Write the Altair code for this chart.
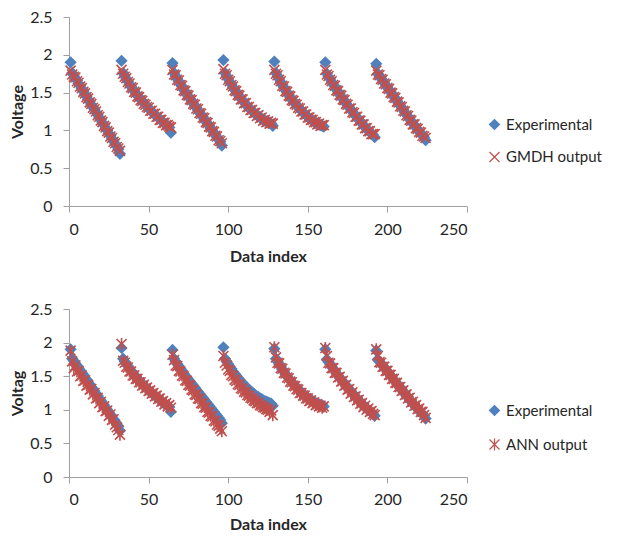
import altair as alt
import pandas as pd

# ---- data : 7 discharge cycles of 32 samples ----
experimental = [
    [1.90, 1.76, 1.73, 1.69, 1.66, 1.62, 1.59, 1.55, 1.52, 1.48, 1.45, 1.41, 1.38, 1.34, 1.31, 1.28,
     1.24, 1.21, 1.17, 1.14, 1.10, 1.07, 1.03, 1.00, 0.96, 0.93, 0.89, 0.86, 0.82, 0.79, 0.75, 0.69],
    [1.92, 1.76, 1.72, 1.68, 1.65, 1.61, 1.58, 1.55, 1.52, 1.49, 1.46, 1.44, 1.41, 1.39, 1.36, 1.34,
     1.32, 1.29, 1.27, 1.25, 1.23, 1.21, 1.19, 1.17, 1.15, 1.13, 1.11, 1.09, 1.08, 1.06, 1.04, 0.97],
    [1.89, 1.76, 1.72, 1.68, 1.65, 1.61, 1.58, 1.54, 1.51, 1.48, 1.45, 1.42, 1.39, 1.36, 1.33, 1.30,
     1.27, 1.24, 1.21, 1.18, 1.15, 1.12, 1.09, 1.06, 1.03, 1.00, 0.97, 0.94, 0.91, 0.88, 0.85, 0.80],
    [1.93, 1.76, 1.72, 1.68, 1.64, 1.61, 1.57, 1.54, 1.51, 1.48, 1.45, 1.42, 1.40, 1.37, 1.35, 1.32,
     1.30, 1.28, 1.26, 1.24, 1.22, 1.20, 1.19, 1.17, 1.16, 1.14, 1.13, 1.12, 1.11, 1.10, 1.09, 1.06],
    [1.91, 1.76, 1.72, 1.68, 1.64, 1.60, 1.57, 1.53, 1.50, 1.47, 1.44, 1.41, 1.38, 1.36, 1.33, 1.31,
     1.28, 1.26, 1.24, 1.22, 1.20, 1.18, 1.16, 1.15, 1.13, 1.12, 1.10, 1.09, 1.08, 1.07, 1.06, 1.05],
    [1.90, 1.75, 1.71, 1.68, 1.64, 1.61, 1.58, 1.54, 1.51, 1.48, 1.45, 1.42, 1.39, 1.36, 1.33, 1.30,
     1.28, 1.25, 1.22, 1.19, 1.17, 1.14, 1.12, 1.09, 1.07, 1.04, 1.02, 1.00, 0.98, 0.96, 0.94, 0.91],
    [1.88, 1.75, 1.72, 1.69, 1.66, 1.63, 1.60, 1.57, 1.54, 1.51, 1.48, 1.45, 1.42, 1.39, 1.36, 1.33,
     1.30, 1.27, 1.24, 1.21, 1.18, 1.15, 1.12, 1.09, 1.07, 1.04, 1.01, 0.99, 0.96, 0.94, 0.91, 0.87],
]

gmdh_output = [
    [1.79, 1.74, 1.71, 1.70, 1.65, 1.63, 1.58, 1.56, 1.51, 1.49, 1.44, 1.42, 1.37, 1.35, 1.30, 1.28,
     1.25, 1.20, 1.18, 1.13, 1.11, 1.06, 1.04, 0.99, 0.97, 0.92, 0.90, 0.85, 0.83, 0.78, 0.76, 0.73],
    [1.80, 1.75, 1.71, 1.69, 1.64, 1.62, 1.57, 1.56, 1.51, 1.50, 1.45, 1.44, 1.40, 1.39, 1.35, 1.34,
     1.31, 1.30, 1.26, 1.26, 1.22, 1.22, 1.18, 1.18, 1.14, 1.14, 1.10, 1.10, 1.07, 1.07, 1.05, 1.04],
    [1.80, 1.74, 1.73, 1.67, 1.66, 1.60, 1.59, 1.53, 1.52, 1.47, 1.46, 1.41, 1.40, 1.35, 1.34, 1.29,
     1.28, 1.23, 1.22, 1.17, 1.16, 1.11, 1.10, 1.05, 1.04, 0.99, 0.98, 0.93, 0.92, 0.87, 0.86, 0.83],
    [1.81, 1.75, 1.73, 1.67, 1.65, 1.60, 1.58, 1.53, 1.52, 1.47, 1.46, 1.41, 1.41, 1.36, 1.36, 1.31,
     1.31, 1.27, 1.27, 1.23, 1.23, 1.19, 1.20, 1.16, 1.17, 1.13, 1.14, 1.11, 1.12, 1.09, 1.10, 1.09],
    [1.80, 1.75, 1.73, 1.67, 1.65, 1.59, 1.58, 1.52, 1.51, 1.46, 1.45, 1.40, 1.39, 1.35, 1.34, 1.30,
     1.29, 1.25, 1.25, 1.21, 1.21, 1.17, 1.17, 1.14, 1.14, 1.11, 1.11, 1.08, 1.09, 1.06, 1.07, 1.07],
    [1.80, 1.74, 1.72, 1.67, 1.65, 1.60, 1.59, 1.53, 1.52, 1.47, 1.46, 1.41, 1.40, 1.35, 1.34, 1.29,
     1.29, 1.24, 1.23, 1.18, 1.18, 1.13, 1.13, 1.08, 1.08, 1.03, 1.03, 0.99, 0.99, 0.95, 0.95, 0.95],
    [1.79, 1.74, 1.73, 1.68, 1.67, 1.62, 1.61, 1.56, 1.55, 1.50, 1.49, 1.44, 1.43, 1.38, 1.37, 1.32,
     1.31, 1.26, 1.25, 1.20, 1.19, 1.14, 1.13, 1.08, 1.08, 1.03, 1.02, 0.98, 0.97, 0.93, 0.92, 0.90],
]

ann_output = [
    [1.88, 1.72, 1.62, 1.66, 1.57, 1.58, 1.50, 1.51, 1.43, 1.44, 1.36, 1.37, 1.30, 1.31, 1.23, 1.25,
     1.17, 1.18, 1.10, 1.12, 1.04, 1.05, 0.98, 0.99, 0.91, 0.93, 0.85, 0.86, 0.78, 0.74, 0.70, 0.63],
    [1.98, 1.73, 1.70, 1.64, 1.63, 1.57, 1.57, 1.51, 1.51, 1.46, 1.46, 1.41, 1.41, 1.36, 1.37, 1.32,
     1.33, 1.28, 1.29, 1.24, 1.25, 1.20, 1.21, 1.16, 1.17, 1.12, 1.13, 1.08, 1.10, 1.05, 1.07, 1.03],
    [1.82, 1.74, 1.66, 1.65, 1.58, 1.57, 1.51, 1.50, 1.44, 1.43, 1.37, 1.36, 1.30, 1.29, 1.23, 1.22,
     1.17, 1.16, 1.10, 1.09, 1.04, 1.03, 0.97, 0.96, 0.91, 0.90, 0.84, 0.83, 0.78, 0.76, 0.72, 0.68],
    [1.80, 1.70, 1.66, 1.60, 1.58, 1.52, 1.50, 1.45, 1.43, 1.38, 1.37, 1.32, 1.31, 1.27, 1.26, 1.22,
     1.21, 1.18, 1.17, 1.14, 1.13, 1.10, 1.10, 1.07, 1.06, 1.04, 1.03, 1.01, 1.00, 0.97, 0.99, 0.92],
    [1.93, 1.78, 1.70, 1.69, 1.62, 1.61, 1.55, 1.54, 1.48, 1.47, 1.42, 1.41, 1.36, 1.35, 1.31, 1.30,
     1.25, 1.25, 1.21, 1.21, 1.17, 1.17, 1.13, 1.14, 1.10, 1.11, 1.07, 1.08, 1.05, 1.06, 1.03, 1.05],
    [1.92, 1.80, 1.70, 1.69, 1.62, 1.62, 1.55, 1.55, 1.48, 1.49, 1.42, 1.43, 1.36, 1.37, 1.30, 1.31,
     1.24, 1.26, 1.19, 1.20, 1.14, 1.15, 1.09, 1.10, 1.04, 1.06, 1.00, 1.02, 0.97, 0.98, 0.94, 0.92],
    [1.90, 1.80, 1.71, 1.70, 1.64, 1.64, 1.58, 1.58, 1.52, 1.52, 1.46, 1.46, 1.40, 1.40, 1.34, 1.34,
     1.28, 1.29, 1.22, 1.23, 1.17, 1.18, 1.11, 1.12, 1.06, 1.07, 1.01, 1.02, 0.97, 0.97, 0.92, 0.88],
]

x_ticks = [0, 50, 100, 150, 200, 250]
y_ticks = [0, 0.5, 1, 1.5, 2, 2.5]

for group in (experimental, gmdh_output, ann_output):
    assert len(group) == 7 and all(len(c) == 32 for c in group)

BLUE = "#4F81BD"
RED = "#C0504D"
X_PATH = "M-1,-1L1,1M-1,1L1,-1"
STAR_PATH = "M-1,-1L1,1M-1,1L1,-1M0,-1.2L0,1.2"
FONT = "Lato"
AXIS_GRAY = "#A0A0A0"
TEXT = "#262626"


def long_table(model_name, model_values):
    rows = []
    for name, cycles in (("Experimental", experimental), (model_name, model_values)):
        for c, cycle in enumerate(cycles):
            for i, v in enumerate(cycle):
                rows.append({"idx": 1 + 32 * c + i, "value": v, "series": name})
    return pd.DataFrame(rows)


def panel(model_name, model_values, model_shape, y_title, h, lx, ly, row_pad, x_lab_pad, x_title_pad):
    df = long_table(model_name, model_values)
    domain = ["Experimental", model_name]
    leg = alt.Legend(
        title=None, orient="none", legendX=lx, legendY=ly, padding=0, offset=0,
        labelFont=FONT, labelFontSize=15, labelColor=TEXT, labelOffset=4,
        symbolSize=100, symbolStrokeWidth=1.2, rowPadding=row_pad,
    )
    return (
        alt.Chart(df)
        .mark_point(filled=True, size=100, strokeWidth=1.6, opacity=1)
        .encode(
            x=alt.X(
                "idx:Q",
                scale=alt.Scale(domain=[0, 250], nice=False),
                axis=alt.Axis(values=x_ticks, title="Data index", labelPadding=x_lab_pad,
                              titlePadding=x_title_pad),
            ),
            y=alt.Y(
                "value:Q",
                scale=alt.Scale(domain=[0, 2.5], nice=False),
                axis=alt.Axis(values=y_ticks, format="~g", title=y_title, labelPadding=11,
                              titlePadding=4),
            ),
            color=alt.Color("series:N", scale=alt.Scale(domain=domain, range=[BLUE, RED]), legend=leg),
            stroke=alt.Stroke("series:N", scale=alt.Scale(domain=domain, range=[BLUE, RED]), legend=leg),
            shape=alt.Shape("series:N", scale=alt.Scale(domain=domain, range=["diamond", model_shape]),
                            legend=leg),
        )
        .properties(width=398, height=h)
    )


top = panel("GMDH output", gmdh_output, X_PATH, "Voltage", 189, 418, 100, 16.5, 9, 11)
bottom = panel("ANN output", ann_output, STAR_PATH, "Voltag", 168, 418, 94, 17, 8, 9)

chart = (
    alt.vconcat(top, bottom, spacing=37)
    .resolve_scale(color="independent", stroke="independent", shape="independent")
    .resolve_legend(color="independent", stroke="independent", shape="independent")
    .properties(padding={"left": 1, "top": 1, "right": 2, "bottom": 0})
    .configure(background="white")
    .configure_view(stroke=None)
    .configure_axis(
        grid=False, domainColor=AXIS_GRAY, tickColor=AXIS_GRAY, tickSize=6,
        labelFont=FONT, labelFontSize=16, labelColor=TEXT,
        titleFont=FONT, titleFontSize=16, titleFontWeight="bold", titleColor=TEXT,
    )
)

chart.save("out.html", embed_options={"renderer": "svg", "actions": False})
